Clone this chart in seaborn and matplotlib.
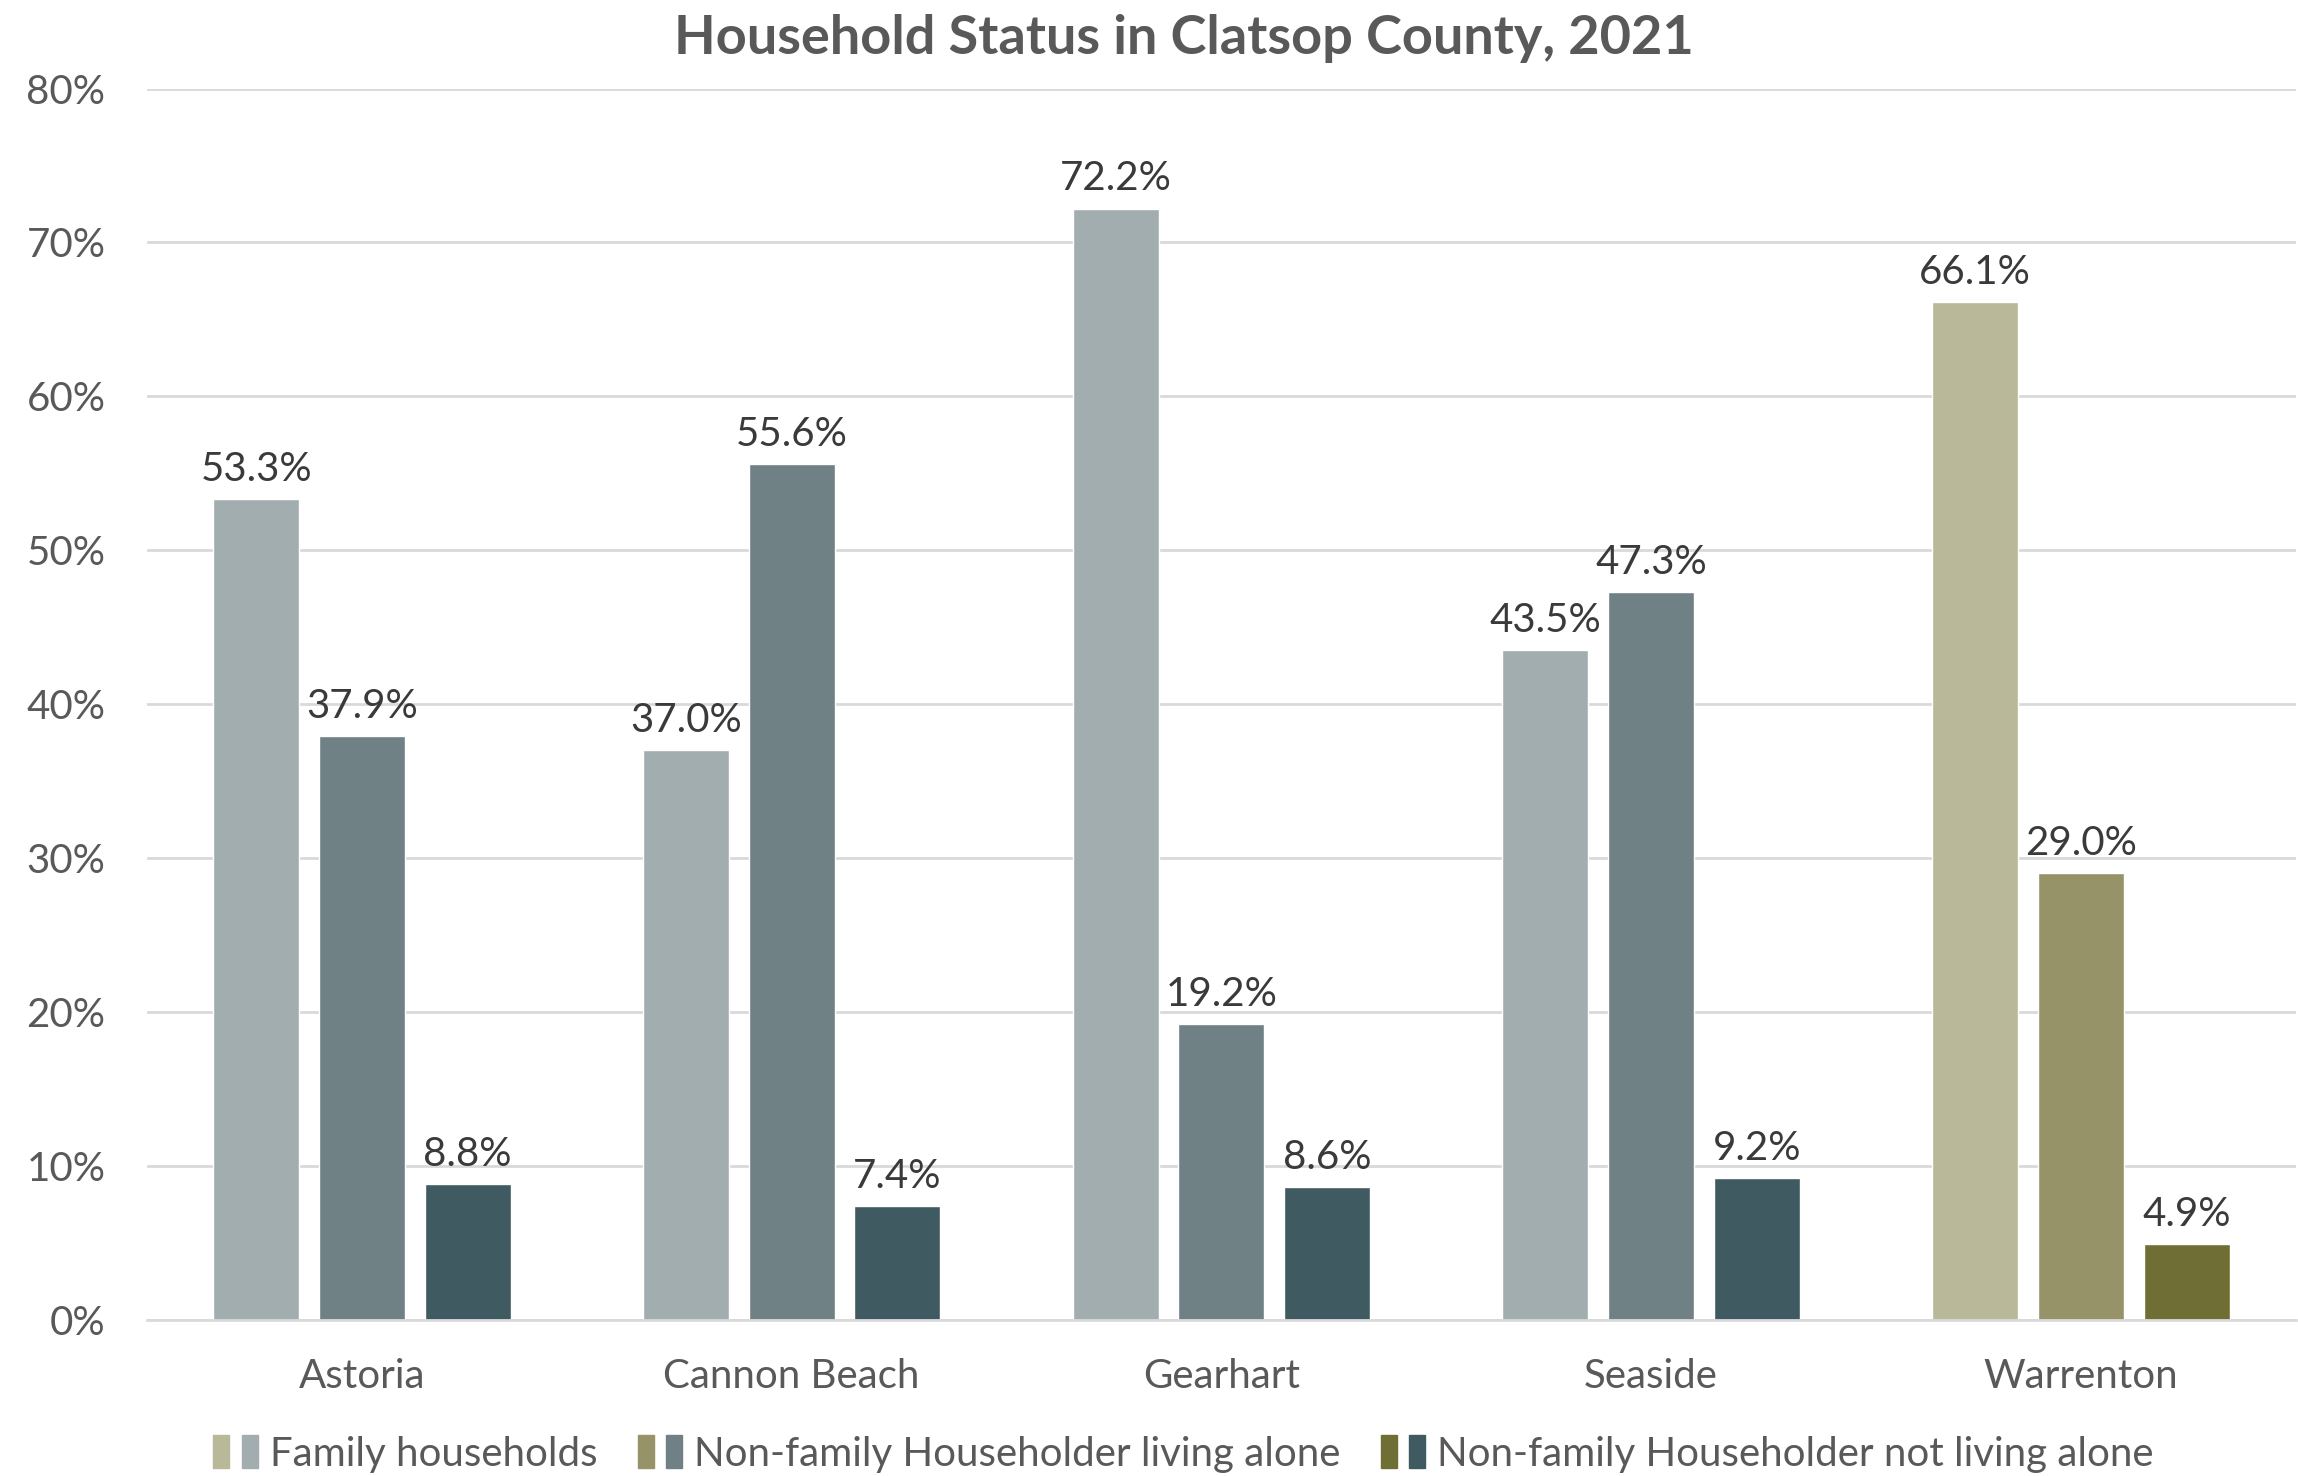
import matplotlib
matplotlib.use("Agg")
import matplotlib.pyplot as plt
from matplotlib.patches import Patch
from matplotlib.legend_handler import HandlerTuple
from matplotlib.ticker import FuncFormatter
import pandas as pd
import seaborn as sns

# Household status shares (%) by city
cities = ["Astoria", "Cannon Beach", "Gearhart", "Seaside", "Warrenton"]
status = [
    "Family households",
    "Non-family Householder living alone",
    "Non-family Householder not living alone",
]
family = [53.3, 37.0, 72.2, 43.5, 66.1]
alone = [37.9, 55.6, 19.2, 47.3, 29.0]
not_alone = [8.8, 7.4, 8.6, 9.2, 4.9]

gray_palette = ["#A2ADB0", "#6F8185", "#3F5A60"]
olive_palette = ["#B9B899", "#979368", "#6F6F35"]
highlight_city = "Warrenton"

df = pd.DataFrame({
    "city": cities * 3,
    "status": [status[0]] * 5 + [status[1]] * 5 + [status[2]] * 5,
    "share": family + alone + not_alone,
})

sns.set_theme(style="white")
plt.rcParams["font.family"] = ["Lato", "DejaVu Sans"]
text_color = "#595959"

fig = plt.figure(figsize=(22.98, 14.76), dpi=100)
ax = fig.add_axes([0.064, 0.106, 0.935, 0.834])

sns.barplot(
    data=df, x="city", y="share", hue="status",
    order=cities, hue_order=status, palette=gray_palette,
    width=0.738, gap=0.187, ax=ax, legend=False, saturation=1,
)

# Recolour the highlighted city in the olive palette and label every bar
hi = cities.index(highlight_city)
for k, cont in enumerate(ax.containers):
    cont[hi].set_facecolor(olive_palette[k])
    ax.bar_label(cont, labels=[f"{v:.1f}%" for v in cont.datavalues],
                 padding=8, fontsize=29, color="#3A3A3A")

ax.set_ylim(0, 80)
ax.set_xlim(-0.5, 4.5)
ax.set_yticks(range(0, 81, 10))
ax.yaxis.set_major_formatter(FuncFormatter(lambda v, _: f"{v:.0f}%"))
ax.grid(axis="y", color="#D9D9D9", linewidth=2)
ax.set_axisbelow(True)
for side in ["top", "right", "left"]:
    ax.spines[side].set_visible(False)
ax.spines["bottom"].set_color("#D9D9D9")
ax.spines["bottom"].set_linewidth(2)
ax.tick_params(axis="y", length=0, pad=30, labelsize=29, labelcolor=text_color)
ax.tick_params(axis="x", length=0, pad=28, labelsize=29, labelcolor=text_color)
ax.set_xlabel("")
ax.set_ylabel("")

fig.text(0.515, 0.974, "Household Status in Clatsop County, 2021",
         ha="center", va="center", fontsize=39, fontweight="bold",
         color=text_color)

handles = [(Patch(color=o), Patch(color=g))
           for o, g in zip(olive_palette, gray_palette)]
fig.legend(handles, status, loc="center", bbox_to_anchor=(0.515, 0.015),
           ncol=3, frameon=False, fontsize=29, labelcolor=text_color,
           handler_map={tuple: HandlerTuple(ndivide=None, pad=0.3)},
           handlelength=1.1, handleheight=0.9, handletextpad=0.3,
           columnspacing=1.0)

fig.savefig("out.png", dpi=100)
